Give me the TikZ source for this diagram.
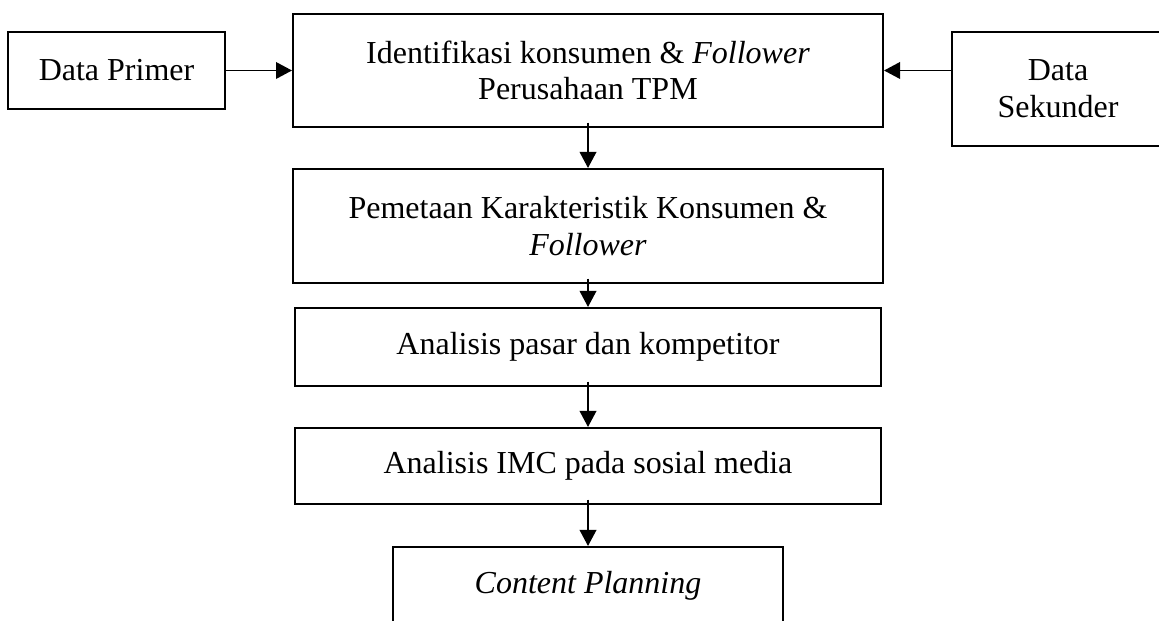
\documentclass[tikz,border=0pt]{standalone}
\usepackage{fontspec}
\setmainfont{Liberation Serif}
\usepackage{tikz}
\usetikzlibrary{arrows.meta}

\begin{document}
\begin{tikzpicture}[
  x=0.375pt, y=-0.375pt,
  >={Triangle[length=6pt, width=6.2pt]},
  box/.style={draw, line width=0.75pt, align=center, inner sep=0pt,
    font=\fontsize{12}{13.8}\selectfont},
  flow/.style={->, line width=0.7pt, shorten <=-2pt}
]
\useasboundingbox (0,0) rectangle (1159,621);
\clip (0,0) rectangle (1159,621);
% the two data sources
\node[box, minimum width=81.4pt, minimum height=28.9pt] (prim) at (116.5,70.5)
  {Data Primer};
\node[box, minimum width=79.5pt, minimum height=42.75pt] (sek) at (1058,89)
  {Data\\ Sekunder};
% the main steps
\node[box, minimum width=221.25pt, minimum height=42.4pt] (ident) at (588,70.5)
  {Identifikasi konsumen \& \textit{Follower}\\ Perusahaan TPM};
\node[box, minimum width=221.25pt, minimum height=42.75pt] (pem) at (588,226)
  {Pemetaan Karakteristik Konsumen \&\\ \textit{Follower}};
\node[box, minimum width=219.4pt, minimum height=29.25pt] (pasar) at (588,347)
  {Analisis pasar dan kompetitor};
\node[box, minimum width=219.4pt, minimum height=28.5pt] (imc) at (588,466)
  {Analisis IMC pada sosial media};
\node[box, minimum width=146.25pt, minimum height=29.25pt] (plan) at (588,586)
  {\textit{Content Planning}};
% inputs
\draw[->, line width=0.7pt] (prim.east) -- (ident.west);
\draw[->, line width=0.7pt] (sek.west |- ident.east) -- (ident.east);
% the flow downwards
\draw[flow] (ident.south) -- (pem.north);
\draw[flow] (pem.south) -- (pasar.north);
\draw[flow] (pasar.south) -- (imc.north);
\draw[flow] (imc.south) -- (plan.north);
\end{tikzpicture}
\end{document}
